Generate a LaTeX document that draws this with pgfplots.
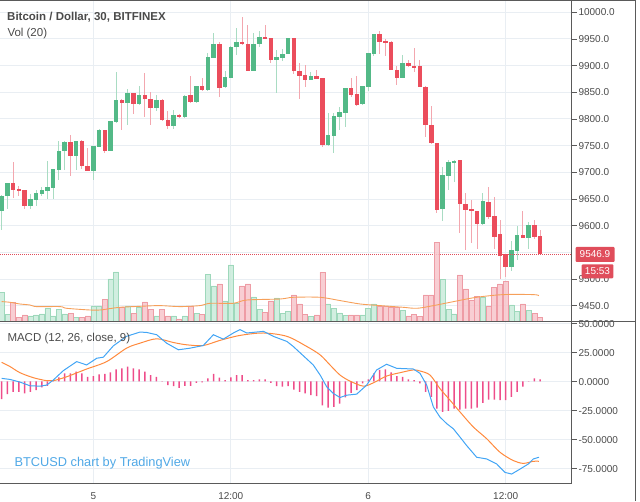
\documentclass[border=0pt]{standalone}
\usepackage{pgfplots}
\pgfplotsset{compat=1.18}
\usepackage{pgfplotstable}
\usepackage{fontspec}
\setmainfont{Liberation Sans}

\definecolor{upc}{HTML}{53B987}
\definecolor{dnc}{HTML}{EB4D5C}
\definecolor{upw}{HTML}{A9DCC3}
\definecolor{dnw}{HTML}{F3A7AF}
\definecolor{upv}{HTML}{C9EBDA}
\definecolor{upvb}{HTML}{9ED8BB}
\definecolor{dnv}{HTML}{F7C5CB}
\definecolor{dnvb}{HTML}{EE9CA5}
\definecolor{gridc}{HTML}{E9EEF3}
\definecolor{txt}{HTML}{4A4A4A}
\definecolor{axc}{HTML}{5A5A5A}
\definecolor{macdc}{HTML}{42A5F5}
\definecolor{sigc}{HTML}{FF8A3D}
\definecolor{histc}{HTML}{EE4D8A}
\definecolor{vmac}{HTML}{F6A05A}
\definecolor{lastc}{HTML}{E04D5B}
\definecolor{tvblue}{HTML}{4FA8E6}

\pgfplotstableread{
k o h l c v
0 9626.9 9658.0 9592.5 9656.3 29.0
1 9655.0 9681.0 9631.9 9680.6 6.7
5 9636.3 9660.0 9632.0 9650.6 5.3
6 9648.8 9667.5 9637.5 9661.3 6.3
7 9660.0 9672.5 9655.0 9667.5 7.3
8 9665.6 9720.6 9650.0 9671.9 12.7
9 9670.6 9707.0 9650.0 9706.3 5.3
10 9705.0 9758.1 9686.3 9739.4 11.7
11 9739.4 9758.0 9705.0 9756.3 7.3
13 9731.3 9759.4 9705.0 9759.4 3.7
16 9703.0 9750.0 9686.0 9750.0 15.3
17 9748.1 9781.0 9747.0 9779.4 15.3
19 9740.6 9796.0 9740.0 9795.6 42.3
20 9793.8 9888.8 9793.0 9836.3 49.3
22 9829.4 9855.6 9788.8 9848.8 15.3
24 9828.1 9861.3 9827.0 9845.0 14.0
27 9820.6 9845.0 9815.6 9836.3 5.3
30 9787.5 9816.9 9781.0 9807.5 5.3
32 9803.1 9845.0 9802.0 9843.8 5.3
34 9832.5 9862.0 9829.4 9861.9 8.0
36 9854.4 9923.1 9853.0 9916.9 47.0
37 9915.0 9960.6 9914.0 9940.0 35.3
39 9859.4 9890.6 9858.0 9879.4 20.3
40 9877.5 9936.0 9877.0 9935.6 56.3
41 9934.4 9970.0 9920.0 9945.0 18.0
44 9890.6 9961.9 9890.0 9941.3 24.3
45 9940.0 9965.6 9935.6 9954.4 11.7
48 9910.6 9929.4 9849.4 9916.3 23.3
49 9915.0 9930.6 9909.4 9921.9 8.0
50 9921.3 9952.0 9921.0 9951.9 10.0
54 9873.1 9888.1 9873.0 9880.0 4.7
57 9751.3 9810.6 9750.0 9769.4 17.3
58 9768.1 9811.9 9735.6 9805.0 13.0
59 9804.4 9823.1 9779.4 9812.5 8.3
60 9810.6 9859.0 9785.6 9858.8 5.7
63 9827.5 9862.0 9826.0 9861.9 6.3
64 9859.4 9924.0 9853.1 9923.8 12.7
65 9921.9 9960.0 9918.8 9959.4 17.3
70 9876.3 9920.6 9876.0 9905.0 11.0
77 9631.3 9710.6 9608.1 9695.0 41.7
78 9692.5 9723.8 9666.9 9720.0 11.7
79 9718.8 9723.0 9681.3 9721.9 7.3
84 9602.5 9660.6 9602.0 9646.3 24.3
89 9521.9 9571.9 9515.6 9554.4 16.3
90 9553.1 9599.4 9535.6 9581.9 10.0
92 9577.5 9607.5 9555.6 9601.3 11.0
}\up

\pgfplotstableread{
k o h l c v
2 9680.6 9718.8 9651.9 9667.5 19.0
3 9669.4 9673.8 9656.0 9664.4 3.7
4 9667.5 9668.0 9631.3 9636.3 6.3
12 9756.3 9770.6 9693.8 9731.3 8.0
14 9759.4 9760.0 9706.0 9712.5 3.7
15 9712.5 9745.6 9703.0 9703.1 5.3
18 9779.4 9780.0 9735.6 9740.6 21.7
21 9836.3 9837.0 9779.4 9829.4 14.3
23 9848.8 9849.0 9809.4 9828.1 8.0
25 9845.0 9886.3 9803.1 9837.5 19.3
26 9837.5 9851.3 9788.8 9820.6 11.7
28 9836.3 9837.0 9797.0 9798.1 11.7
29 9798.1 9815.6 9781.3 9787.5 5.3
31 9807.5 9809.0 9801.0 9803.1 2.3
33 9845.0 9880.6 9830.6 9832.5 15.3
35 9861.9 9876.3 9852.5 9854.4 7.0
38 9940.0 9943.8 9841.9 9858.8 37.3
42 9945.0 9991.9 9939.0 9940.0 35.3
43 9941.3 9976.3 9890.0 9890.6 37.3
46 9954.4 9976.3 9949.0 9950.0 9.0
47 9951.9 9952.0 9905.6 9910.6 20.3
51 9951.9 9952.0 9884.4 9889.4 26.3
52 9890.6 9904.4 9836.9 9880.6 17.3
53 9881.9 9901.3 9859.4 9873.1 7.0
55 9880.6 9891.3 9875.0 9875.6 6.3
56 9876.9 9877.0 9748.1 9751.3 49.0
61 9858.8 9876.3 9840.6 9845.0 6.3
62 9846.9 9880.6 9825.0 9826.9 6.3
66 9959.4 9965.6 9921.9 9943.8 14.7
67 9945.6 9950.0 9918.8 9943.8 14.7
68 9945.0 9945.6 9891.0 9891.9 14.0
69 9892.5 9898.8 9863.8 9876.3 14.0
71 9905.0 9911.3 9898.0 9898.8 5.3
72 9900.0 9932.5 9888.8 9895.6 7.0
73 9900.0 9911.3 9859.4 9860.6 4.7
74 9860.6 9861.0 9765.6 9788.8 26.3
75 9788.8 9823.8 9754.0 9754.4 26.3
76 9755.0 9755.5 9623.1 9629.4 78.7
80 9723.1 9724.0 9586.9 9640.0 46.3
81 9640.6 9661.9 9554.4 9628.8 32.3
82 9630.6 9648.1 9566.9 9626.9 21.0
83 9628.1 9628.5 9556.9 9602.5 24.7
85 9644.4 9673.1 9611.9 9616.9 14.7
86 9617.5 9653.1 9556.9 9579.4 33.7
87 9585.6 9610.6 9501.3 9543.1 37.3
88 9546.3 9547.0 9504.4 9521.9 39.7
91 9581.9 9628.1 9577.0 9577.5 17.3
93 9601.3 9610.6 9576.0 9578.1 8.0
94 9580.6 9591.9 9546.9 9546.9 3.7
}\down

\pgfplotsset{
  candle/.style={only marks, mark=*, mark size=0pt,
    mark options={draw opacity=0, fill opacity=0},
    error bars/.cd, y dir=both, y explicit, error mark=none,
    error bar style={draw=#1}},
}

\begin{document}
\begin{tikzpicture}
\useasboundingbox (0pt,0pt) rectangle (640pt,501pt);

% ---------------- main price panel ----------------
\begin{axis}[
  at={(0pt,179.7pt)}, anchor=south west, scale only axis,
  width=571.7pt, height=320.8pt,
  xmin=-0.29, xmax=99.52, ymin=9421, ymax=10022,
  axis line style={draw=none},
  grid=major, grid style={gridc, line width=1pt},
  xtick={16,40,64,88}, xticklabels={}, xtick style={draw=none},
  ytick={9450,9500,9600,9650,9700,9750,9800,9850,9900,9950,10000},
  extra y ticks={9550}, extra y tick labels={},
  extra y tick style={grid=major, tick style={draw=none}},
  scaled y ticks=false,
  ytick pos=right, yticklabel pos=right,
  tick align=outside, major tick length=5pt,
  ytick style={axc, line width=0.8pt},
  yticklabel={\pgfmathprintnumber[fixed,fixed zerofill,precision=1,1000 sep={},assume math mode=true]{\tick}},
  yticklabel style={anchor=west, inner sep=0pt, xshift=1.6pt, font=\fontsize{10}{12}\selectfont, text=txt},
]
% wicks
\addplot[candle=upw, error bar style={line width=1pt}]
  table[x=k, y expr={(\thisrow{h}+\thisrow{l})/2}, y error expr={(\thisrow{h}-\thisrow{l})/2}] \up;
\addplot[candle=dnw, error bar style={line width=1pt}]
  table[x=k, y expr={(\thisrow{h}+\thisrow{l})/2}, y error expr={(\thisrow{h}-\thisrow{l})/2}] \down;
% bodies
\addplot[candle=upc, error bar style={line width=4.5pt}]
  table[x=k, y expr={(\thisrow{o}+\thisrow{c})/2}, y error expr={max(abs(\thisrow{o}-\thisrow{c})/2,0.8)}] \up;
\addplot[candle=dnc, error bar style={line width=4.5pt}]
  table[x=k, y expr={(\thisrow{o}+\thisrow{c})/2}, y error expr={max(abs(\thisrow{o}-\thisrow{c})/2,0.8)}] \down;
% last price line
\addplot[lastc, line width=0.8pt, dash pattern=on 1pt off 1pt] coordinates {(-0.29,9546.9) (99.52,9546.9)};
\end{axis}

% ---------------- volume overlay ----------------
\begin{axis}[
  at={(0pt,179.7pt)}, anchor=south west, scale only axis,
  width=571.7pt, height=320.8pt,
  xmin=-0.29, xmax=99.52, ymin=0, ymax=320.8,
  hide axis,
]
\addplot[ybar, bar width=5pt, bar shift=0pt, fill=upv, draw=upvb, line width=0.6pt, fill opacity=0.85] table[x=k, y=v] \up;
\addplot[ybar, bar width=5pt, bar shift=0pt, fill=dnv, draw=dnvb, line width=0.6pt, fill opacity=0.85] table[x=k, y=v] \down;
\addplot[vmac, line width=0.9pt, smooth] coordinates {
(0,19.7) (1.46,19) (3.2,17.3) (4.95,16.3) (6.1,14.7) (10.2,14.7) (11.35,13) (15.4,11.3) (17.2,11.3)
(18.9,12.7) (20.7,14) (24.2,15) (27.6,15.7) (31.1,14.7) (34.6,15.7) (36.4,18) (40.4,18) (42.8,21.3)
(48.6,22.3) (50.9,24) (55.6,24) (59.1,20.7) (62.6,17.3) (66.1,15.7) (70.1,14) (72.5,13) (75.4,15.7)
(78.9,19.7) (82.9,24) (87.6,26.7) (92.8,26.7) (93.8,25.7)};
\end{axis}

% ---------------- MACD panel ----------------
\begin{axis}[
  at={(0pt,17.7pt)}, anchor=south west, scale only axis,
  width=571.7pt, height=162pt,
  xmin=-0.29, xmax=99.52, ymin=-88, ymax=51.9,
  axis line style={draw=none},
  grid=major, grid style={gridc, line width=1pt},
  xtick={16,40,64,88}, xticklabels={5,12:00,6,12:00}, xtick style={draw=none},
  xticklabel style={font=\fontsize{10}{12}\selectfont, text=txt, yshift=-1pt},
  ytick={-75,-50,-25,0,25,50},
  scaled y ticks=false,
  ytick pos=right, yticklabel pos=right,
  tick align=outside, major tick length=5pt,
  ytick style={axc, line width=0.8pt},
  yticklabel={\pgfmathprintnumber[fixed,fixed zerofill,precision=4,assume math mode=true]{\tick}},
  yticklabel style={anchor=west, inner sep=0pt, xshift=1.6pt, yshift=-1pt, font=\fontsize{10}{12}\selectfont, text=txt},
]
\addplot[ybar, bar width=1.5pt, bar shift=0pt, fill=histc, draw=none] coordinates {
(0,-15.4) (1,-11) (2,-9) (3,-9) (4,-10.4) (5,-9) (6,-7.5) (7,-5.2) (8,-3.8) (9,1.2)
(10,3.5) (11,7) (12,7) (13,8.4) (14,7) (15,4) (16,4.6) (17,6.1) (18,6.4) (19,7.8)
(20,10.4) (21,11.3) (22,12.8) (23,11.3) (24,10.4) (25,8.4) (26,5.5) (27,4) (28,0.3) (29,-3.2)
(30,-4) (31,-5.5) (32,-3.8) (33,-3.8) (34,-1.2) (35,-0.9) (36,2.6) (37,6.4) (38,3.2) (39,1.2)
(40,3.5) (41,5.5) (42,5.5) (43,1.2) (44,1.2) (45,1.7) (46,1.7) (47,-1.2) (48,-4) (49,-4.6)
(50,-4) (51,-7) (52,-9) (53,-10.4) (54,-11.9) (55,-12.8) (56,-20.6) (57,-22.6) (58,-22) (59,-19.1)
(60,-13.9) (61,-9.9) (62,-7.5) (63,-1.7) (64,1.7) (65,7) (66,9.9) (67,10.4) (68,7.8) (69,4.6)
(70,4) (71,1.7) (72,1.2) (73,-1.7) (74,-9) (75,-13.3) (76,-23.5) (77,-26.4) (78,-25.5) (79,-23.5)
(80,-24.4) (81,-23.5) (82,-23.5) (83,-22.6) (84,-18.6) (85,-15.7) (86,-15.7) (87,-16.2) (88,-16.2) (89,-13.3)
(90,-9) (91,-4.6) (92,0.3) (93,2.6) (94,1.7)};
\addplot[sigc, line width=1pt, smooth] coordinates {
(0,16.5) (1.46,12.8) (3.2,7.5) (5.53,3.2) (7.86,0.6) (9.02,0.6) (11.35,4) (14.84,10.7) (18.33,17.1)
(21.8,28.7) (24.15,33) (27.06,36.8) (29.97,33.6) (32.3,31.6) (35.2,31) (38.1,35.4) (41.6,39.7)
(45.7,41.8) (49.8,38.9) (53.25,30.2) (55.6,22.9) (57.32,14.2) (59.07,5.5) (60.8,0.3) (63.14,-4.1)
(64.9,-1.2) (67.2,4.6) (69.54,7.5) (71.87,9.9) (73.03,9) (74.78,5.5) (76.5,-6.1) (78.27,-16.2)
(80.02,-26.4) (82.35,-39.4) (84.7,-49.6) (87,-61.2) (89.33,-68.4) (91.08,-70.8) (92.8,-69) (93.8,-69)};
\addplot[macdc, line width=1pt] coordinates {
(0,2.6) (1.46,1.7) (3.2,-0.6) (4.95,-3.8) (6.7,-4.1) (7.86,-3.2) (9.02,1.2) (10.77,9.3) (13.1,17.1)
(14.84,14.2) (16.6,20) (17.75,20.9) (19.5,30.7) (21.8,38.9) (24.15,42.6) (25.3,42.3) (27.06,40.3)
(28.8,33) (30.85,27.3) (32.9,28.7) (35.2,31) (36.96,40.3) (38.7,36.5) (40.45,41.8) (41.6,44.7)
(42.78,41.8) (45.7,43.2) (47.43,38.9) (49.8,34.5) (50.9,30.2) (54.4,14.2) (55.6,5.5) (56.74,-4.6)
(57.9,-10.4) (59.07,-13.9) (60.23,-11.9) (61.98,-11) (63.72,-3.2) (65.47,9.9) (67.2,14.8) (68.96,11.3)
(71.87,10.7) (73.03,7) (74.2,-3.2) (75.36,-22) (76.5,-30.7) (77.7,-36.5) (78.85,-40.9) (80.02,-48.1)
(81.18,-55.4) (82.93,-65.5) (84.7,-67) (86.42,-71.3) (87.88,-78.6) (89.04,-80) (90.5,-75.7)
(91.95,-71.3) (92.8,-67) (93.8,-65.5)};
\end{axis}

% ---------------- frame ----------------
\draw[axc, line width=1pt] (0pt,500.5pt) -- (635pt,500.5pt);
\draw[axc, line width=1pt] (635pt,0pt) -- (635pt,501pt);
\draw[axc, line width=1pt] (571.7pt,17.7pt) -- (571.7pt,501pt);
\draw[axc, line width=1pt] (0pt,179.7pt) -- (635pt,179.7pt);
\draw[axc, line width=1pt] (0pt,17.7pt) -- (571.7pt,17.7pt);

% ---------------- last price tags ----------------
\node[fill=lastc, text=white, inner sep=0pt, minimum width=39pt, minimum height=15pt,
  rounded corners=1pt, font=\fontsize{10}{12}\selectfont] at (595pt,246.5pt) {9546.9};
\node[fill=lastc, text=white, inner sep=0pt, minimum width=31.6pt, minimum height=14pt,
  rounded corners=1pt, font=\fontsize{10}{12}\selectfont] at (597.5pt,229.7pt) {15:53};

% ---------------- texts ----------------
\node[anchor=base west, inner sep=0pt, text=txt, font=\fontsize{11.5}{13}\selectfont\bfseries]
  at (7pt,480.3pt) {Bitcoin / Dollar, 30, BITFINEX};
\node[anchor=base west, inner sep=0pt, text=txt, font=\fontsize{11.5}{13}\selectfont]
  at (7.3pt,464.3pt) {Vol (20)};
\node[anchor=base west, inner sep=0pt, text=txt, font=\fontsize{11.5}{13}\selectfont]
  at (7.3pt,159.3pt) {MACD (12, 26, close, 9)};
\node[anchor=base west, inner sep=0pt, text=tvblue, font=\fontsize{12.8}{14}\selectfont]
  at (14.3pt,34.5pt) {BTCUSD chart by TradingView};
\end{tikzpicture}
\end{document}
